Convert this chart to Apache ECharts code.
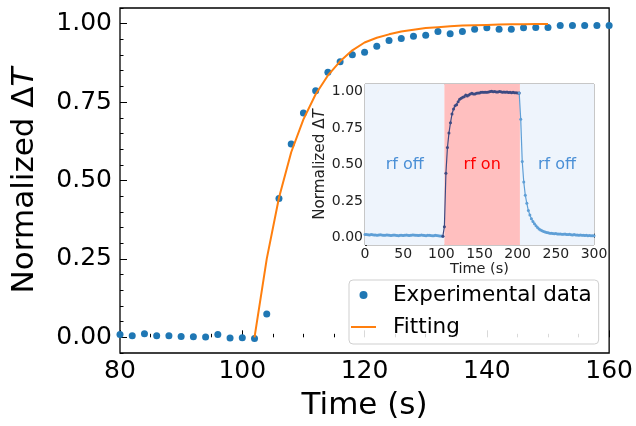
<!DOCTYPE html>
<html>
  <head>
    <meta charset="utf-8" />
    <title>rf heating</title>
    <style>
      html, body { margin: 0; padding: 0; background: #fff; }
      #chartBox { width: 636px; height: 426px; }
    </style>
  </head>
  <body>
    <div id="chartBox"></div>
  </body>
  <script src="https://cdn.jsdelivr.net/npm/echarts@6/dist/echarts.min.js"></script>
  <script>
    // main plot: experimental points (every 2 s) and the fitted curve
    var mainTime = [80, 82, 84, 86, 88, 90, 92, 94, 96, 98, 100, 102, 104, 106, 108, 110, 112, 114, 116, 118,
      120, 122, 124, 126, 128, 130, 132, 134, 136, 138, 140, 142, 144, 146, 148, 150, 152, 154, 156, 158, 160];
    var mainVal = [0.009, 0.005, 0.011, 0.005, 0.005, 0.003, 0.002, 0.001, 0.009, -0.002, -0.001, -0.004,
      0.074, 0.443, 0.616, 0.715, 0.786, 0.845, 0.879, 0.901, 0.909, 0.928, 0.946, 0.953, 0.960, 0.963,
      0.975, 0.968, 0.975, 0.982, 0.987, 0.982, 0.982, 0.987, 0.988, 0.988, 0.994, 0.994, 0.994, 0.994, 0.994];
    var fitTime = [102, 104, 106, 108, 110, 112, 114, 116, 118, 120, 122, 124, 126, 128, 130, 132, 134, 136,
      138, 140, 142, 144, 146, 148, 150];
    var fitVal = [0, 0.25, 0.445, 0.59, 0.695, 0.775, 0.835, 0.88, 0.915, 0.94, 0.955, 0.966, 0.975, 0.981,
      0.986, 0.989, 0.992, 0.994, 0.995, 0.996, 0.997, 0.998, 0.998, 0.999, 0.999];

    // inset: whole run 0-300 s, every 2 s
    var insetTime = [];
    for (var t = 0; t <= 300; t += 2) insetTime.push(t);
    var insetVal = [
      0.022, 0.021, 0.020, 0.019, 0.021, 0.020, 0.018, 0.019, 0.017, 0.018,
      0.020, 0.019, 0.017, 0.016, 0.018, 0.019, 0.017, 0.015, 0.016, 0.018,
      0.017, 0.015, 0.014, 0.016, 0.017, 0.015, 0.016, 0.018, 0.016, 0.015,
      0.017, 0.019, 0.018, 0.016, 0.017, 0.015, 0.016, 0.018, 0.017, 0.015,
      0.014, 0.016, 0.017, 0.015, 0.013, 0.014, 0.016, 0.015, 0.013, 0.012,
      0.011, 0.010,
      0.075, 0.44, 0.616, 0.715, 0.786, 0.845, 0.879, 0.901, 0.909, 0.928,
      0.946, 0.953, 0.960, 0.963, 0.975, 0.968, 0.975, 0.982, 0.987, 0.982,
      0.982, 0.987, 0.988, 0.988, 0.994, 0.994, 0.994, 0.994, 0.994,
      0.996, 0.998, 1.000, 0.997, 0.999, 0.996, 0.995, 0.998, 0.997, 0.994,
      0.996, 0.993, 0.995, 0.992, 0.994, 0.991, 0.993, 0.990, 0.991, 0.989, 0.988,
      0.81, 0.52, 0.38, 0.29, 0.235, 0.185, 0.155, 0.13, 0.11, 0.095,
      0.082, 0.070, 0.060, 0.053, 0.047, 0.042, 0.038, 0.035, 0.033, 0.031,
      0.030, 0.029, 0.027, 0.028, 0.026, 0.025, 0.026, 0.024, 0.023, 0.025,
      0.022, 0.021, 0.023, 0.020, 0.019, 0.021, 0.018, 0.019, 0.017, 0.018,
      0.016, 0.017, 0.015, 0.016, 0.014, 0.015, 0.013, 0.014, 0.013
    ];
    var rfOnStart = 104, rfOnEnd = 203;   // shaded rf-on window
    var onFrom = 102, onTo = 202;         // dark segment of the inset trace

    var yMajor = [0, 0.25, 0.5, 0.75, 1.0];
    var legendData = ['Experimental data', 'Fitting'];

    var FONT = 'DejaVu Sans';

    function zip(xs, ys) {
      var out = [];
      for (var i = 0; i < xs.length; i++) out.push([xs[i], ys[i]]);
      return out;
    }
    function pick(from, to) {
      var out = [];
      for (var i = 0; i < insetTime.length; i++) {
        var x = insetTime[i];
        if (x >= from && x <= to) out.push([x, insetVal[i]]);
      }
      return out;
    }

    function yMinorAxis(grid, len, color) {
      return {
        type: 'value', gridIndex: grid, position: 'left', min: -0.05, max: 1.05, interval: 0.05,
        axisLine: { show: false },
        axisTick: { show: true, inside: true, length: len, lineStyle: { color: color, width: 1 } },
        axisLabel: { show: false },
        splitLine: { show: false }
      };
    }

    function buildOption() {
      var insetLight = '#5f9fd6';
      var insetDark = '#3d4a82';
      var option = {
        animation: false,
        textStyle: { fontFamily: FONT },
        grid: [
          { left: 120, top: 8, right: 26, bottom: 73, show: true, borderColor: '#000', borderWidth: 1.3, backgroundColor: 'transparent' },
          { left: 365, top: 84, width: 229, height: 161, show: true, borderColor: '#8f8f8f', borderWidth: 1, backgroundColor: 'transparent' }
        ],
        legend: {
          left: 349, top: 280,
          orient: 'vertical',
          padding: [3, 7, 5, 2],
          itemGap: 8,
          itemWidth: 25, itemHeight: 8,
          backgroundColor: 'rgba(255,255,255,0.85)',
          borderColor: '#cfcfcf', borderWidth: 1, borderRadius: 4,
          textStyle: { fontFamily: FONT, fontSize: 21.5, color: '#000', lineHeight: 24, padding: [0, 0, 0, 12] },
          data: [
            { name: legendData[0], icon: 'circle' },
            { name: legendData[1], icon: 'path://M0,0 L25,0 L25,2 L0,2 Z' }
          ]
        },
        xAxis: [{
          type: 'value', gridIndex: 0, min: 80, max: 160, interval: 20,
          name: 'Time (s)', nameLocation: 'middle', nameGap: 37,
          nameTextStyle: { fontFamily: FONT, fontSize: 31, color: '#000' },
          axisLine: { show: false },
          axisTick: { show: true, inside: true, length: 7, lineStyle: { color: '#000', width: 1 } },
          minorTick: { show: true, splitNumber: 4, length: 3.5, lineStyle: { color: '#000', width: 1 } },
          axisLabel: { fontFamily: FONT, fontSize: 25, color: '#000', margin: 6 },
          splitLine: { show: false }
        }, {
          type: 'value', gridIndex: 1, min: 0, max: 300, interval: 50,
          name: 'Time (s)', nameLocation: 'middle', nameGap: 17,
          nameTextStyle: { fontFamily: FONT, fontSize: 14.5, color: '#222' },
          axisLine: { show: false },
          axisTick: { show: true, inside: true, length: 4, lineStyle: { color: '#333', width: 1 } },
          minorTick: { show: true, splitNumber: 5, length: 2, lineStyle: { color: '#333', width: 1 } },
          axisLabel: { fontFamily: FONT, fontSize: 14, color: '#222', margin: 2 },
          splitLine: { show: false }
        }],
        yAxis: [
          yMinorAxis(0, 3.5, '#000'),
          {
            type: 'value', gridIndex: 0, position: 'left', min: -0.05, max: 1.05,
            name: '{n|Normalized Δ}{t|T}', nameLocation: 'middle', nameGap: 80, nameRotate: 90,
            nameTextStyle: {
              fontFamily: FONT, fontSize: 31, color: '#000',
              rich: {
                n: { fontFamily: FONT, fontSize: 31, color: '#000' },
                t: { fontFamily: FONT, fontSize: 31, color: '#000', fontStyle: 'italic' }
              }
            },
            axisLine: { show: false },
            axisTick: { show: true, inside: true, length: 7, customValues: yMajor, lineStyle: { color: '#000', width: 1 } },
            axisLabel: {
              fontFamily: FONT, fontSize: 25, color: '#000', margin: 8, customValues: yMajor,
              formatter: function (v) { return v.toFixed(2); }
            },
            splitLine: { show: false }
          },
          yMinorAxis(1, 2, '#333'),
          {
            type: 'value', gridIndex: 1, position: 'left', min: -0.05, max: 1.05,
            name: '{n|Normalized Δ}{t|T}', nameLocation: 'middle', nameGap: 36, nameRotate: 90,
            nameTextStyle: {
              fontFamily: FONT, fontSize: 15.2, color: '#222',
              rich: {
                n: { fontFamily: FONT, fontSize: 15.2, color: '#222' },
                t: { fontFamily: FONT, fontSize: 15.2, color: '#222', fontStyle: 'italic' }
              }
            },
            axisLine: { show: false },
            axisTick: { show: true, inside: true, length: 4, customValues: yMajor, lineStyle: { color: '#333', width: 1 } },
            axisLabel: {
              fontFamily: FONT, fontSize: 14, color: '#222', margin: 2, customValues: yMajor,
              formatter: function (v) { return v.toFixed(2); }
            },
            splitLine: { show: false }
          }
        ],
        series: [{
          name: legendData[0],
          type: 'scatter',
          xAxisIndex: 0, yAxisIndex: 1,
          symbolSize: 7,
          itemStyle: { color: '#1f77b4', opacity: 1 },
          data: zip(mainTime, mainVal),
          z: 3
        }, {
          name: legendData[1],
          type: 'line',
          xAxisIndex: 0, yAxisIndex: 1,
          symbol: 'none', showSymbol: false,
          lineStyle: { color: '#ff7f0e', width: 2 },
          itemStyle: { color: '#ff7f0e' },
          data: zip(fitTime, fitVal),
          z: 4
        }, {
          // rf off (before) + shaded regions
          name: 'inset1',
          type: 'line',
          xAxisIndex: 1, yAxisIndex: 3,
          symbol: 'circle', symbolSize: 3,
          lineStyle: { color: insetLight, width: 1.2 },
          itemStyle: { color: insetLight },
          data: pick(0, onFrom),
          markArea: {
            silent: true,
            label: { show: true, position: 'inside', fontFamily: FONT, fontSize: 16 },
            data: [
              [{ xAxis: 0, yAxis: -0.05, itemStyle: { color: '#eef4fc' }, label: { formatter: 'rf off', color: '#4a8fd6' } },
               { xAxis: rfOnStart, yAxis: 1.05 }],
              [{ xAxis: rfOnStart, yAxis: -0.05, itemStyle: { color: '#ffbfbf' }, label: { formatter: 'rf on', color: '#ff0000' } },
               { xAxis: rfOnEnd, yAxis: 1.05 }],
              [{ xAxis: rfOnEnd, yAxis: -0.05, itemStyle: { color: '#eef4fc' }, label: { formatter: 'rf off', color: '#4a8fd6' } },
               { xAxis: 300, yAxis: 1.05 }]
            ]
          }
        }, {
          name: 'inset2',
          type: 'line',
          xAxisIndex: 1, yAxisIndex: 3,
          symbol: 'circle', symbolSize: 3,
          lineStyle: { color: insetDark, width: 1.2 },
          itemStyle: { color: insetDark },
          data: pick(onFrom, onTo),
          z: 3
        }, {
          name: 'inset3',
          type: 'line',
          xAxisIndex: 1, yAxisIndex: 3,
          symbol: 'circle', symbolSize: 3,
          lineStyle: { color: insetLight, width: 1.2 },
          itemStyle: { color: insetLight },
          data: pick(onTo, 300),
          z: 3
        }]
      };
      return option;
    }

    var myChart = echarts.init(document.getElementById('chartBox'));
    myChart.setOption(buildOption());
  </script>
</html>
